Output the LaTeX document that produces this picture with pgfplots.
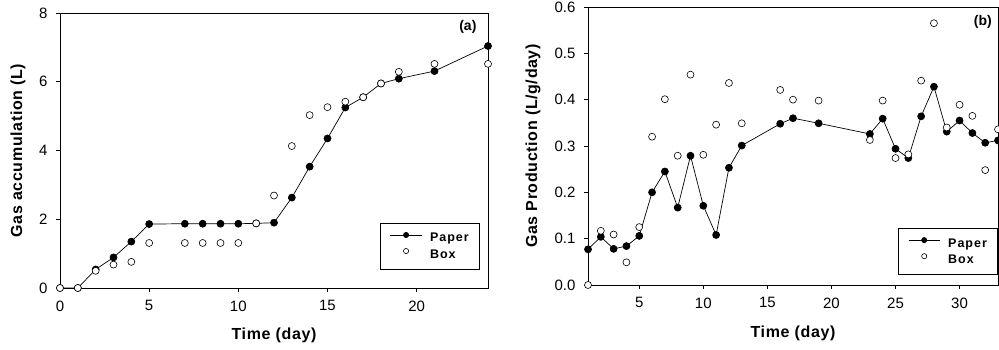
\documentclass[border=0pt]{standalone}
\usepackage{fontspec}
\setmainfont{Liberation Sans}
\newfontfamily\labfont{Liberation Sans}[LetterSpace=4.0]
\newfontfamily\legfont{Liberation Sans}[LetterSpace=8.0]
\usepackage{pgfplots}
\pgfplotsset{compat=1.18}
\begin{document}
\begin{tikzpicture}
\useasboundingbox (0,0) rectangle (999pt,349pt);
\pgfplotsset{
  common/.style={
    scale only axis, anchor=south west,
    axis line style={black, line width=0.8pt},
    tick align=outside, tick pos=left,
    major tick length=4pt,
    tick style={black, line width=0.7pt},
    ticklabel style={font=\fontsize{15}{17}\selectfont},
    xticklabel style={yshift=-5pt},
    yticklabel style={xshift=-5pt},
    /pgf/number format/assume math mode=true,
    label style={font=\labfont\bfseries\fontsize{16}{18}\selectfont},
    legend cell align=left,
    legend style={draw=black, line width=0.6pt, font=\legfont\bfseries\fontsize{12.5}{14}\selectfont,
      nodes={inner sep=0pt}, column sep=8pt, row sep=5pt, inner xsep=9.5pt, inner ysep=9.5pt},
    legend image code/.code={\draw[draw=none] (0cm,0.12cm) -- (1.1cm,0.12cm); \draw[mark repeat=2,mark phase=2,##1, mark size=2.6pt] plot coordinates {(0cm,0.12cm) (0.55cm,0.12cm) (1.1cm,0.12cm)};},
    clip=false,
  },
  paper/.style={black, line width=0.7pt, mark=*, mark size=3.5pt, mark options={fill=black, solid}},
  box/.style={only marks, mark=*, mark size=3.5pt, mark options={fill=white, draw=black, line width=0.6pt},
    legend image code/.code={\draw[draw=none] (0cm,0.12cm) -- (1.1cm,0.12cm); \draw[mark repeat=2,mark phase=2,##1, mark size=2.6pt] plot coordinates {(0cm,0.12cm) (0.55cm,0.12cm) (1.1cm,0.12cm)};}},
}
\begin{axis}[common, at={(60pt,61pt)}, width=428pt, height=275pt,
  xmin=0, xmax=24, ymin=0, ymax=8,
  xtick={0,5,10,15,20}, ytick={0,2,4,6,8},
  xlabel={Time (day)}, ylabel={Gas accumulation (L)},
  xlabel style={at={(axis description cs:0.5,-0.173)}, anchor=center},
  ylabel style={at={(axis description cs:-0.098,0.5)}, anchor=center},
  legend style={at={(0.981,0.068)}, anchor=south east, cells={anchor=west}}]
\addplot[paper] coordinates {(0,0)(1,0)(2,0.54)(3,0.89)(4,1.35)(5,1.86)(7,1.87)(8,1.87)(9,1.87)(10,1.87)(11,1.88)(12,1.9)(13,2.63)(14,3.53)(15,4.35)(16,5.25)(17,5.55)(18,5.95)(19,6.09)(21,6.31)(24,7.04)};
\addlegendentry{\makebox[40pt][l]{Paper}}
\addplot[box] coordinates {(0,0)(1,0)(2,0.5)(3,0.68)(4,0.76)(5,1.31)(7,1.31)(8,1.31)(9,1.31)(10,1.31)(11,1.88)(12,2.69)(13,4.13)(14,5.03)(15,5.26)(16,5.42)(17,5.55)(18,5.95)(19,6.29)(21,6.52)(24,6.52)};
\addlegendentry{\makebox[40pt][l]{Box}}
\node[font=\bfseries\fontsize{14}{16}\selectfont] at (rel axis cs:0.953,0.95) {(a)};
\end{axis}
\begin{axis}[common, at={(588pt,64pt)}, width=410pt, height=278pt,
  xmin=1, xmax=33, ymin=0, ymax=0.6,
  xtick={5,10,15,20,25,30}, ytick={0,0.1,0.2,0.3,0.4,0.5,0.6},
  yticklabel style={/pgf/number format/.cd, fixed, fixed zerofill, precision=1},
  xlabel={Time (day)}, ylabel={Gas Production (L/g/day)},
  xlabel style={at={(axis description cs:0.5,-0.173)}, anchor=center},
  ylabel style={at={(axis description cs:-0.134,0.5)}, anchor=center},
  legend style={at={(1.0,0.038)}, anchor=south east, cells={anchor=west}}]
\addplot[paper] coordinates {(1,0.077)(2,0.104)(3,0.078)(4,0.084)(5,0.106)(6,0.200)(7,0.245)(8,0.167)(9,0.279)(10,0.171)(11,0.108)(12,0.253)(13,0.301)(16,0.348)(17,0.360)(19,0.349)(23,0.326)(24,0.359)(25,0.294)(26,0.274)(27,0.364)(28,0.428)(29,0.331)(30,0.355)(31,0.328)(32,0.307)(33,0.312)};
\addlegendentry{\makebox[40pt][l]{Paper}}
\addplot[box] coordinates {(1,0)(2,0.117)(3,0.109)(4,0.049)(5,0.125)(6,0.320)(7,0.401)(8,0.279)(9,0.454)(10,0.281)(11,0.346)(12,0.436)(13,0.349)(16,0.421)(17,0.400)(19,0.398)(23,0.313)(24,0.398)(25,0.274)(26,0.282)(27,0.441)(28,0.565)(29,0.340)(30,0.389)(31,0.365)(32,0.248)(33,0.336)};
\addlegendentry{\makebox[40pt][l]{Box}}
\node[font=\bfseries\fontsize{14}{16}\selectfont] at (rel axis cs:0.963,0.945) {(b)};
\end{axis}
\end{tikzpicture}
\end{document}
